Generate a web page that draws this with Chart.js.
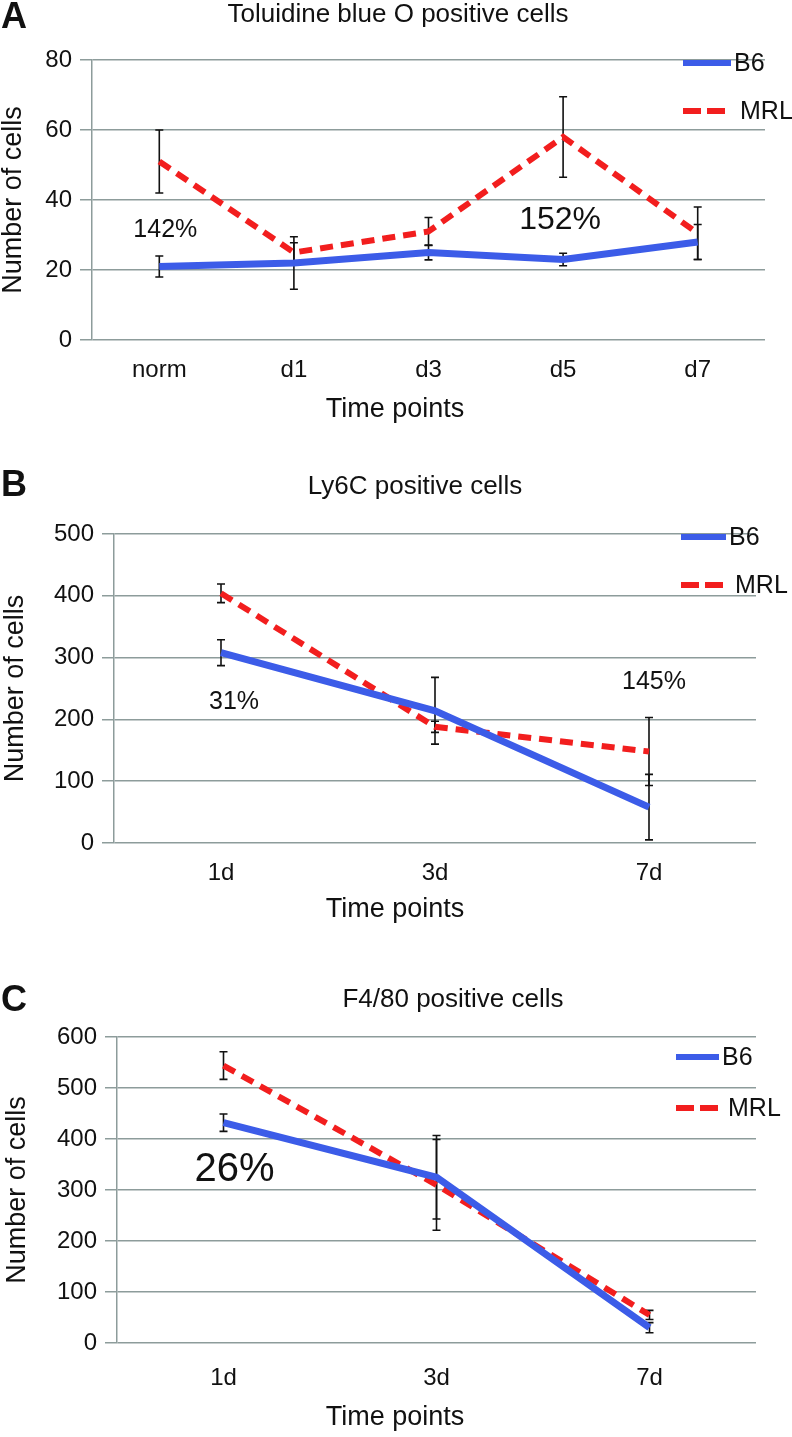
<!DOCTYPE html>
<html>
<head>
<meta charset="utf-8">
<script src="https://cdn.jsdelivr.net/npm/chart.js@4.4.0/dist/chart.umd.min.js"></script>
<style>
  body { margin: 0; background: #fff; }
  #wrap { position: relative; width: 792px; height: 1437px; }
  canvas { position: absolute; left: 0; }
</style>
</head>
<body>
<div id="wrap">
  <canvas id="chartA" width="792" height="445" style="top:0px"></canvas>
  <canvas id="chartB" width="792" height="485" style="top:445px"></canvas>
  <canvas id="chartC" width="792" height="507" style="top:930px"></canvas>
</div>
<script>
// ---- data ----
const titleA = 'Toluidine blue O positive cells';
const titleB = 'Ly6C positive cells';
const titleC = 'F4/80 positive cells';

const labelsA = ['norm', 'd1', 'd3', 'd5', 'd7'];
const b6A = [21, 22, 25, 23, 28];
const b6ErrA = [3, 7.5, 2.1, 1.8, 5];
const mrlA = [51, 25, 31, 58, 30.5];
const mrlErrA = [9, 2.8, 4, 11.5, 7.5];
const noteTextA = ['142%', '152%'];
const noteIdxA = [0, 3];
const noteValA = [31.4, 34.3];

const labelsB = ['1d', '3d', '7d'];
const b6B = [308, 214, 58];
const b6ErrB = [21, 54, 53];
const mrlB = [404, 188, 148];
const mrlErrB = [15, 9, 55];
const noteTextB = ['31%', '145%'];
const noteIdxB = [0, 2];
const noteValB = [228, 260];

const labelsC = ['1d', '3d', '7d'];
const b6C = [432, 325, 30];
const b6ErrC = [17, 82, 10];
const mrlC = [544, 310, 55];
const mrlErrC = [27, 89, 9];
const noteTextC = ['26%'];
const noteIdxC = [0];
const noteValC = [339];

const BLUE = 'rgb(60, 92, 232)';
const RED = 'rgb(242, 30, 30)';
const GRID = '#8d9c9b';
const FONT = '"Liberation Sans", Arial, sans-serif';

Chart.defaults.font.family = FONT;
Chart.defaults.color = '#111';

// error bars, drawn under the lines
const errorBarPlugin = {
  id: 'errorBars',
  beforeDatasetsDraw(chart) {
    const ctx = chart.ctx;
    const xs = chart.scales.x, ys = chart.scales.y;
    ctx.save();
    ctx.strokeStyle = '#111';
    ctx.lineWidth = 1.6;
    chart.data.datasets.forEach(ds => {
      ds.data.forEach((v, i) => {
        const e = ds.errors[i];
        const px = xs.getPixelForValue(i);
        const top = ys.getPixelForValue(v + e);
        const bot = ys.getPixelForValue(v - e);
        ctx.beginPath();
        ctx.moveTo(px, top); ctx.lineTo(px, bot);
        ctx.moveTo(px - 4, top); ctx.lineTo(px + 4, top);
        ctx.moveTo(px - 4, bot); ctx.lineTo(px + 4, bot);
        ctx.stroke();
      });
    });
    ctx.restore();
  }
};

// percentage notes, legend, titles and panel letter
const captionPlugin = {
  id: 'captions',
  afterDraw(chart, args, opts) {
    const ctx = chart.ctx;
    const xs = chart.scales.x, ys = chart.scales.y;
    ctx.save();
    ctx.fillStyle = '#111';
    ctx.textBaseline = 'middle';

    // notes
    ctx.textAlign = 'center';
    opts.notes.text.forEach((t, k) => {
      ctx.font = opts.notes.size[k] + 'px ' + FONT;
      ctx.fillText(t, xs.getPixelForValue(opts.notes.idx[k]) + opts.notes.dx[k], ys.getPixelForValue(opts.notes.val[k]));
    });

    // panel letter + title + x title
    ctx.textAlign = 'left';
    ctx.font = 'bold 36px ' + FONT;
    ctx.fillText(opts.letter, 1, opts.letterY);
    ctx.textAlign = 'center';
    ctx.font = '26px ' + FONT;
    ctx.fillText(opts.title, opts.titleX, opts.titleY);
    ctx.font = '27px ' + FONT;
    ctx.fillText('Time points', opts.xTitleX, opts.xTitleY);

    // legend
    const lg = opts.legend;
    chart.data.datasets.forEach((ds, i) => {
      const y = lg.y + i * lg.gap;
      ctx.beginPath();
      ctx.strokeStyle = ds.borderColor;
      ctx.lineWidth = 6;
      ctx.setLineDash(ds.borderDash ? [18, 6] : []);
      ctx.moveTo(lg.x, y);
      ctx.lineTo(lg.x + lg.len, y);
      ctx.stroke();
      ctx.setLineDash([]);
      ctx.textAlign = 'left';
      ctx.font = '25px ' + FONT;
      ctx.fillText(ds.label, lg.x + lg.len + 3 + (ds.borderDash ? 6 : 0), y + 1);
    });
    ctx.restore();
  }
};

function buildChart(id, p) {
  return new Chart(document.getElementById(id), {
    type: 'line',
    data: {
      labels: p.labels,
      datasets: [
        { label: 'B6', data: p.b6, errors: p.b6Err, borderColor: BLUE, borderWidth: 7, pointRadius: 0, tension: 0 },
        { label: 'MRL', data: p.mrl, errors: p.mrlErr, borderColor: RED, borderWidth: 6, borderDash: [13, 8], pointRadius: 0, tension: 0 }
      ]
    },
    options: {
      responsive: false,
      animation: false,
      layout: { padding: { top: p.areaTop, right: 792 - p.areaRight, bottom: 0, left: 0 } },
      plugins: {
        legend: { display: false },
        tooltip: { enabled: false },
        title: { display: false },
        captions: p.captions
      },
      scales: {
        x: {
          offset: true,
          grid: { display: false, drawTicks: false },
          border: { display: false },
          ticks: { padding: p.xTickPad, font: { size: 24 }, color: '#111' },
          afterFit: s => { s.height = p.canvasH - p.areaBottom; }
        },
        y: {
          min: 0,
          max: p.yMax,
          ticks: { stepSize: p.step, padding: 8, font: { size: 24 }, color: '#111' },
          grid: { color: GRID, lineWidth: 1.5, tickLength: 12 },
          border: { color: GRID, width: 1.5 },
          title: { display: true, text: 'Number of cells', font: { size: 27, lineHeight: 1 }, color: '#111', padding: { top: p.yTitlePad, bottom: 0 } },
          afterFit: s => { s.width = p.areaLeft; }
        }
      }
    },
    plugins: [errorBarPlugin, captionPlugin]
  });
}

buildChart('chartA', {
  labels: labelsA, b6: b6A, b6Err: b6ErrA, mrl: mrlA, mrlErr: mrlErrA,
  yMax: 80, step: 20, canvasH: 445,
  areaLeft: 92, areaRight: 765, areaTop: 60, areaBottom: 340,
  xTickPad: 16, yTitlePad: 0,
  captions: {
    letter: 'A', letterY: 18, title: titleA, titleX: 398, titleY: 15, xTitleX: 395, xTitleY: 410,
    legend: { x: 683, y: 63, gap: 48, len: 48 },
    notes: { text: noteTextA, idx: noteIdxA, val: noteValA, size: [25, 32], dx: [6, -3] }
  }
});

buildChart('chartB', {
  labels: labelsB, b6: b6B, b6Err: b6ErrB, mrl: mrlB, mrlErr: mrlErrB,
  yMax: 500, step: 100, canvasH: 485,
  areaLeft: 114, areaRight: 756, areaTop: 89, areaBottom: 398,
  xTickPad: 16, yTitlePad: 2.5,
  captions: {
    letter: 'B', letterY: 41, title: titleB, titleX: 415, titleY: 42, xTitleX: 395, xTitleY: 465,
    legend: { x: 681, y: 92, gap: 48, len: 45 },
    notes: { text: noteTextB, idx: noteIdxB, val: noteValB, size: [25, 25], dx: [13, 5] }
  }
});

buildChart('chartC', {
  labels: labelsC, b6: b6C, b6Err: b6ErrC, mrl: mrlC, mrlErr: mrlErrC,
  yMax: 600, step: 100, canvasH: 507,
  areaLeft: 117, areaRight: 756, areaTop: 107, areaBottom: 413,
  xTickPad: 21, yTitlePad: 4.5,
  captions: {
    letter: 'C', letterY: 71, title: titleC, titleX: 453, titleY: 70, xTitleX: 395, xTitleY: 488,
    legend: { x: 676, y: 127, gap: 51, len: 43 },
    notes: { text: noteTextC, idx: noteIdxC, val: noteValC, size: [40], dx: [11] }
  }
});
</script>
</body>
</html>
